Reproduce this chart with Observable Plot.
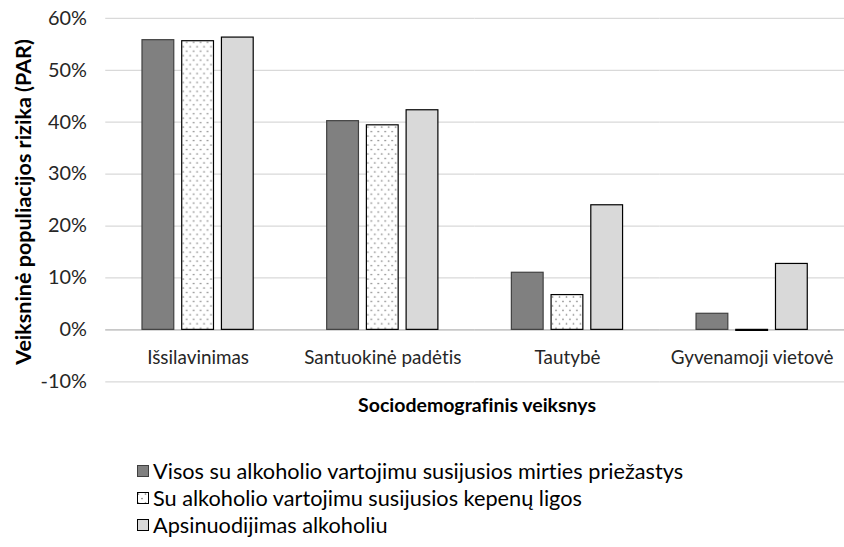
<!DOCTYPE html>
<html>
<head>
<meta charset="utf-8">
<script src="https://cdn.jsdelivr.net/npm/d3@7"></script>
<script src="https://cdn.jsdelivr.net/npm/@observablehq/plot@0.6"></script>
<style>
  html, body { margin: 0; padding: 0; background: #fff; overflow: hidden; }
  body { width: 844px; height: 547px; position: relative; font-family: Lato, sans-serif; color: #262626; font-variant-ligatures: none; }
  #chart { position: absolute; left: 0; top: 0; }
  #chart svg { font-variant-ligatures: none; }
  .ytitle { position: absolute; left: 23px; top: 202px; transform: translate(-50%, -50%) rotate(-90deg); white-space: nowrap; font-weight: bold; font-size: 21.5px; color: #000; }
  .xtitle { position: absolute; left: 477px; top: 404px; transform: translate(-50%, -50%); white-space: nowrap; font-weight: bold; font-size: 19.5px; color: #000; }
  .legend { position: absolute; left: 137px; top: 457px; font-size: 21.7px; color: #000; }
  .legend .row { height: 27px; display: flex; align-items: center; white-space: nowrap; }
  .legend svg { margin-right: 4px; }
</style>
</head>
<body>
<svg width="0" height="0" style="position:absolute">
  <defs>
    <pattern id="dots" patternUnits="userSpaceOnUse" width="7" height="9">
      <rect width="7" height="9" fill="#ffffff"></rect>
      <circle cx="1.5" cy="2" r="0.85" fill="#7f7f7f"></circle>
      <circle cx="5" cy="6.5" r="0.85" fill="#7f7f7f"></circle>
    </pattern>
  </defs>
</svg>
<div id="chart"></div>
<div class="ytitle">Veiksninė populiacijos rizika (PAR)</div>
<div class="xtitle">Sociodemografinis veiksnys</div>
<div class="legend" id="legend"></div>
<script>
const categories = ["Išsilavinimas", "Santuokinė padėtis", "Tautybė", "Gyvenamoji vietovė"];
const seriesNames = [
  "Visos su alkoholio vartojimu susijusios mirties priežastys",
  "Su alkoholio vartojimu susijusios kepenų ligos",
  "Apsinuodijimas alkoholiu"
];
const allCauses = [0.558, 0.402, 0.110, 0.031];
const liverDisease = [0.556, 0.394, 0.067, -0.002];
const poisoning = [0.563, 0.423, 0.240, 0.127];
const yTicks = [-0.1, 0, 0.1, 0.2, 0.3, 0.4, 0.5, 0.6];

const seriesValues = [allCauses, liverDisease, poisoning];
const fills = ["#808080", "url(#dots)", "#d9d9d9"];
const strokes = ["#404040", "#000000", "#000000"];

const data = seriesNames.flatMap((s, i) =>
  categories.map((c, j) => ({category: c, series: s, value: seriesValues[i][j]}))
);

const chart = Plot.plot({
  width: 850,
  height: 400,
  marginLeft: 105,
  marginRight: 0,
  marginTop: 18,
  marginBottom: 16,
  style: {fontFamily: "Lato, sans-serif", fontSize: "19px", color: "#262626", background: "transparent"},
  fx: {domain: categories, padding: 0, axis: null},
  x: {domain: seriesNames, paddingInner: 0.2, paddingOuter: 0.875, axis: null},
  y: {domain: [-0.1, 0.6], axis: null},
  marks: [
    Plot.ruleY(yTicks, {stroke: "#d9d9d9", strokeWidth: 1.3}),
    Plot.ruleY([0], {stroke: "#bfbfbf", strokeWidth: 1.3}),
    ...seriesNames.map((s, i) =>
      Plot.barY(data.filter(d => d.series === s), {
        fx: "category", x: "series", y: "value",
        fill: fills[i], stroke: strokes[i], strokeWidth: 1.2
      })
    ),
    Plot.text(categories, {fx: d => d, y: 0, dy: 28, text: d => d, fill: "#262626"}),
    Plot.axisY(yTicks, {
      tickSize: 0, tickPadding: 19, label: null, fontSize: 20,
      tickFormat: d => Math.round(d * 100) + "%", fill: "#262626"
    })
  ]
});
document.getElementById("chart").appendChild(chart);

const legend = document.getElementById("legend");
seriesNames.forEach((s, i) => {
  const row = document.createElement("div");
  row.className = "row";
  row.innerHTML = `<svg width="12" height="12"><rect x="0.5" y="0.5" width="11" height="11" fill="${fills[i]}" stroke="${strokes[i]}" stroke-width="1"></rect></svg><span>${s}</span>`;
  legend.appendChild(row);
});
</script>
</body>
</html>
